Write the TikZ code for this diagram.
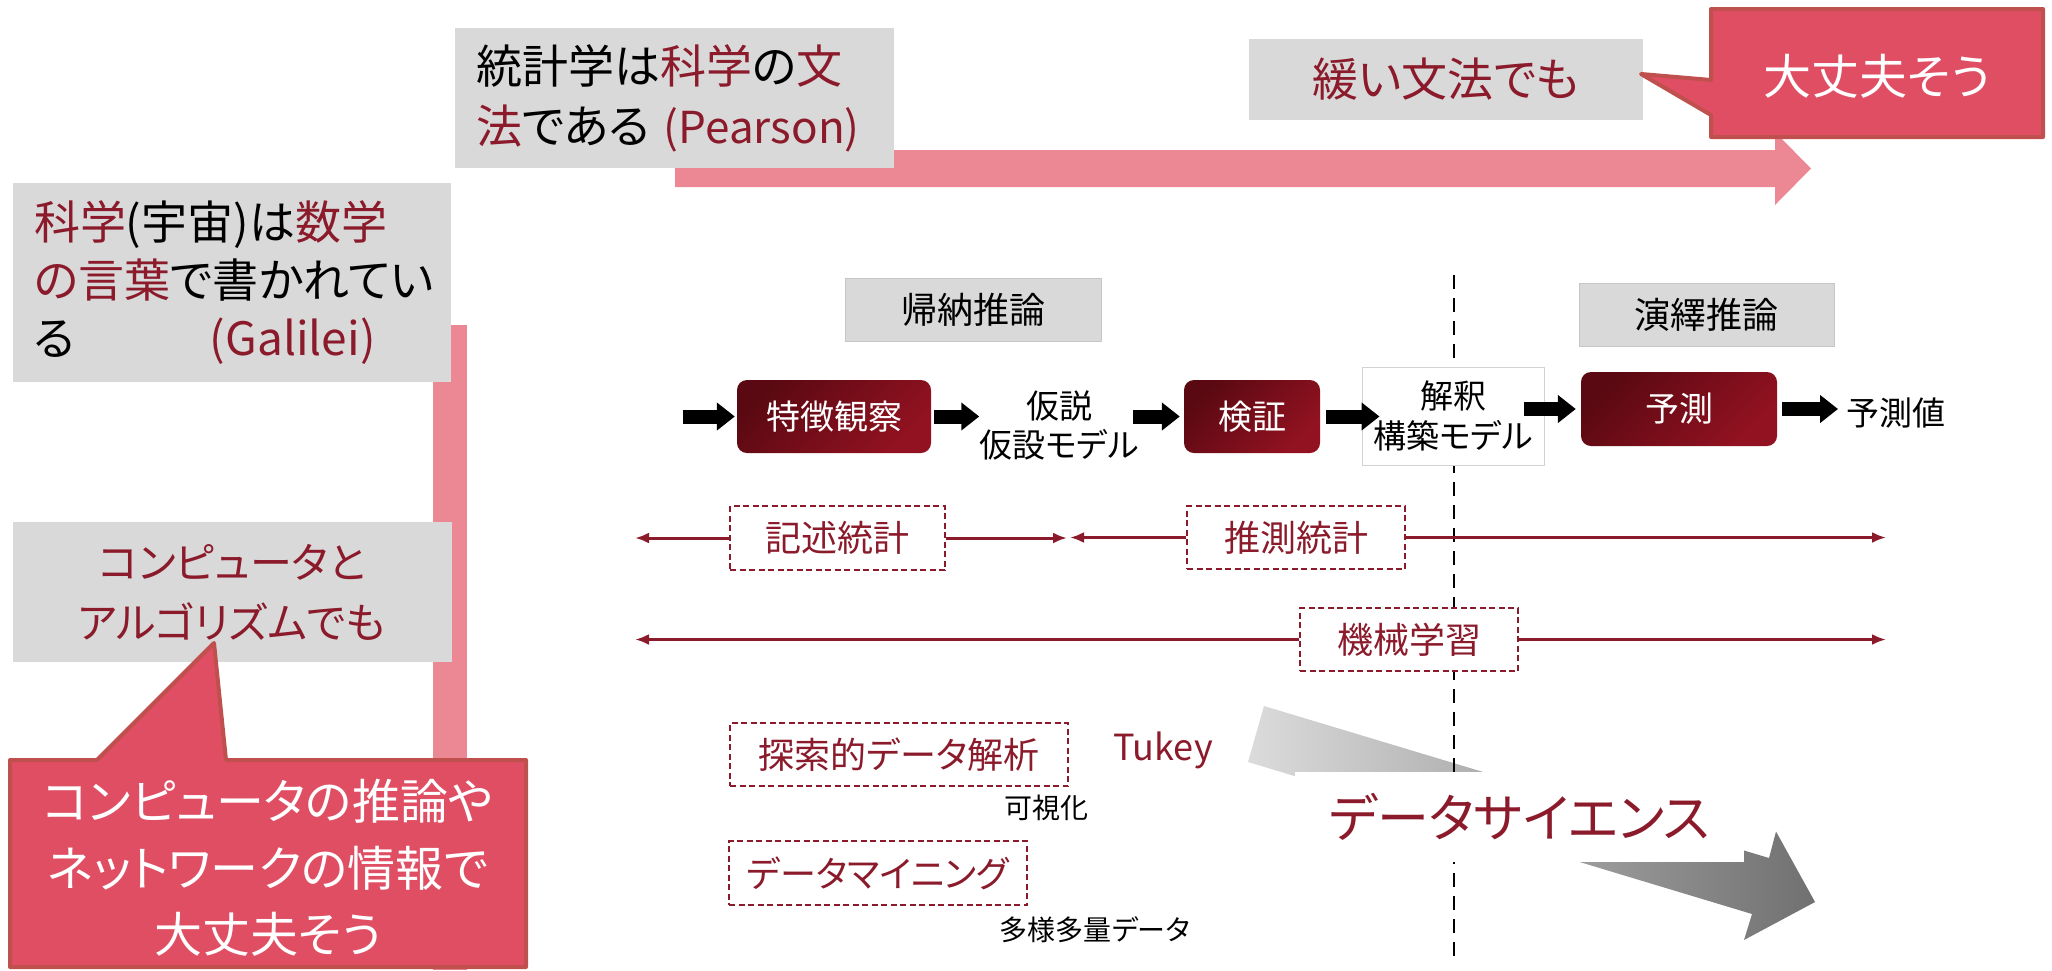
\documentclass[tikz,border=0pt]{standalone}
\usepackage{fontspec}
\setmainfont{Noto Sans CJK JP}[RawFeature=+palt]
\usetikzlibrary{arrows.meta}
\definecolor{tred}{HTML}{8B1A2B}
\definecolor{gbox}{HTML}{D9D9D9}
\definecolor{pinkc}{HTML}{EC8893}
\definecolor{calfill}{HTML}{E04E63}
\definecolor{calline}{HTML}{C0504D}
\definecolor{dra}{HTML}{5A0912}
\definecolor{drb}{HTML}{931221}
\newcommand\fsz[2]{\fontsize{#1pt}{#2pt}\selectfont}
\newcommand\rd[1]{\textcolor{tred}{#1}}
\begin{document}
\begin{tikzpicture}[x=1pt,y=-1pt,
  graybox/.style={fill=gbox, draw=none, inner sep=0pt},
  lightbox/.style={fill=gbox, draw=gray!45, line width=1pt, inner sep=0pt, font=\fsz{36}{44}},
  gradbox/.style={rounded corners=10pt, left color=dra, right color=drb, shading angle=45, text=white, inner sep=0pt, font=\fsz{34}{40}},
  plain/.style={inner sep=0pt, font=\fsz{33}{39}},
  dbox/.style={draw=tred, fill=white, line width=2.5pt, dash pattern=on 6pt off 3.5pt, text=tred, inner sep=0pt, font=\fsz{36}{44}},
  blk/.style={line width=14pt, -{Triangle[length=18pt,width=27pt]}},
  rline/.style={draw=tred, line width=3pt, -{Latex[length=14pt,width=11pt]}},
  callout/.style={fill=calfill, draw=calline, line width=4pt, line join=round},
  vdash/.style={line width=2.5pt, dash pattern=on 14pt off 9pt}
]
\useasboundingbox (0,0) rectangle (2052,970);

% pink arrows
\fill[pinkc] (433,325) rectangle (467,970);
\fill[pinkc] (675,150) -- (1775,150) -- (1775,132) -- (1811,168.5) -- (1775,205) -- (1775,187) -- (675,187) -- cycle;

% gray text boxes
\node[graybox, minimum width=439pt, minimum height=140pt, text width=397pt, align=left, font=\fsz{46}{60}] (pearson) at (674.5,98)
  {統計学は\rd{科学}の\rd{文}\\\mbox{\rd{法}である\hspace{14pt}\rd{\fontsize{44pt}{60pt}\selectfont(Pearson)}}};
\node[graybox, minimum width=438pt, minimum height=199pt, text width=396pt, align=left, font=\fsz{46}{58}] (galilei) at (232,282.5)
  {\rd{科学}(宇宙)は\rd{数学}\\\rd{の言葉}で書かれてい\\\makebox[176pt][l]{る}\rd{(Galilei)}};
\node[graybox, minimum width=439pt, minimum height=140pt, align=center, text=tred, font=\fsz{42}{60}] (comp) at (232,592)
  {コンピュータと\\アルゴリズムでも};
\node[graybox, minimum width=394pt, minimum height=81pt, text=tred, font=\fsz{46}{56}] (yurui) at (1446,79.5) {緩い文法でも};

% callouts
\filldraw[callout] (1711,9) -- (2043,9) -- (2043,137) -- (1711,137) -- (1711,115) -- (1641,74) -- (1711,80) -- cycle;
\node[text=white, inner sep=0pt, font=\fsz{48}{56}] (daijo1) at (1877,76) {大丈夫そう};
\filldraw[callout] (10,760) -- (97,760) -- (214,643) -- (226,760) -- (526,760) -- (526,967) -- (10,967) -- cycle;
\node[text=white, align=center, inner sep=0pt, font=\fsz{48}{66.5}] (daijo2) at (268,868)
  {コンピュータの推論や\\ネットワークの情報で\\大丈夫そう};

% headings
\node[lightbox, minimum width=256pt, minimum height=63pt] (kino) at (973,309.5) {帰納推論};
\node[lightbox, minimum width=255pt, minimum height=63pt] (eneki) at (1706.5,314.5) {演繹推論};

% big gray arrow
\shade[left color=black!14, right color=black!56] (1264,706) -- (1769,858) -- (1776,831.5) -- (1815,902) -- (1744,940) -- (1752,914) -- (1248,762) -- cycle;

% dashed divider
\coordinate (vt) at (1454,275);
\coordinate (vb) at (1454,958);
\draw[vdash] (vt) -- (vb);

% flow row
\coordinate (s0) at (683,416.5);
\node[gradbox, minimum width=194pt, minimum height=73pt] (f1) at (834,416.5) {特徴観察};
\node[plain, align=center] (hyp) at (1059,425.5) {仮説\\仮設モデル};
\node[gradbox, minimum width=136pt, minimum height=73pt] (ken) at (1252,416.5) {検証};
\node[fill=white, draw=gray!35, line width=1pt, minimum width=182pt, minimum height=98pt, inner sep=0pt, align=center, font=\fsz{33}{40}] (kai) at (1453,416) {解釈\\構築モデル};
\node[gradbox, minimum width=196pt, minimum height=74pt] (yo) at (1679,409) {予測};
\node[plain, anchor=west] (yv) at (1846,413) {予測値};

\draw[blk] (s0) -- ([xshift=-2pt]f1.west);
\draw[blk] ([xshift=3pt]f1.east) -- (f1.east -| hyp.west);
\draw[blk] ([xshift=-6pt]hyp.east |- ken.west) -- ([xshift=-4pt]ken.west);
\draw[blk] ([xshift=6pt]ken.east) -- ([xshift=18pt]ken.east -| kai.west);
\draw[blk] ([xshift=-21pt]kai.east |- yo.west) -- ([xshift=-5pt]yo.west);
\draw[blk] ([xshift=5pt]yo.east) -- ([xshift=-8pt]yo.east -| yv.west);

% statistics rows
\node[dbox, minimum width=215pt, minimum height=64pt] (kij) at (837.5,538) {記述統計};
\node[dbox, minimum width=218pt, minimum height=63pt] (sui) at (1296,537.5) {推測統計};
\node[dbox, minimum width=218pt, minimum height=63pt] (kik) at (1409,639.5) {機械学習};
\coordinate (l1) at (635,538);
\coordinate (r1) at (1067,538);
\coordinate (l2) at (1070,537.5);
\coordinate (r2) at (1886,537.5);
\coordinate (l3) at (635,639.5);
\coordinate (r3) at (1886,639.5);
\draw[rline] (kij.west) -- (l1);
\draw[rline] (kij.east) -- (r1);
\draw[rline] (sui.west) -- (l2);
\draw[rline] (sui.east) -- (r2);
\draw[rline] (kik.west) -- (l3);
\draw[rline] (kik.east) -- (r3);

% lower part
\node[dbox, minimum width=338pt, minimum height=63pt] (eda) at (899,754.5) {探索的データ解析};
\node[dbox, minimum width=298pt, minimum height=64pt] (dm) at (878,873) {データマイニング};
\node[inner sep=0pt, text=tred, font=\fsz{36}{40}] (tukey) at (1163,750) {Tukey};
\node[inner sep=0pt, font=\fsz{28}{32}] (kashi) at (1046,808) {可視化};
\node[inner sep=0pt, font=\fsz{28}{32}] (tayo) at (1095,930) {多様多量データ};
\node[fill=white, inner sep=0pt, minimum width=449pt, minimum height=90pt, text=tred, font=\fsz{52}{60}] (ds) at (1519.5,817) {データサイエンス};
\end{tikzpicture}
\end{document}
